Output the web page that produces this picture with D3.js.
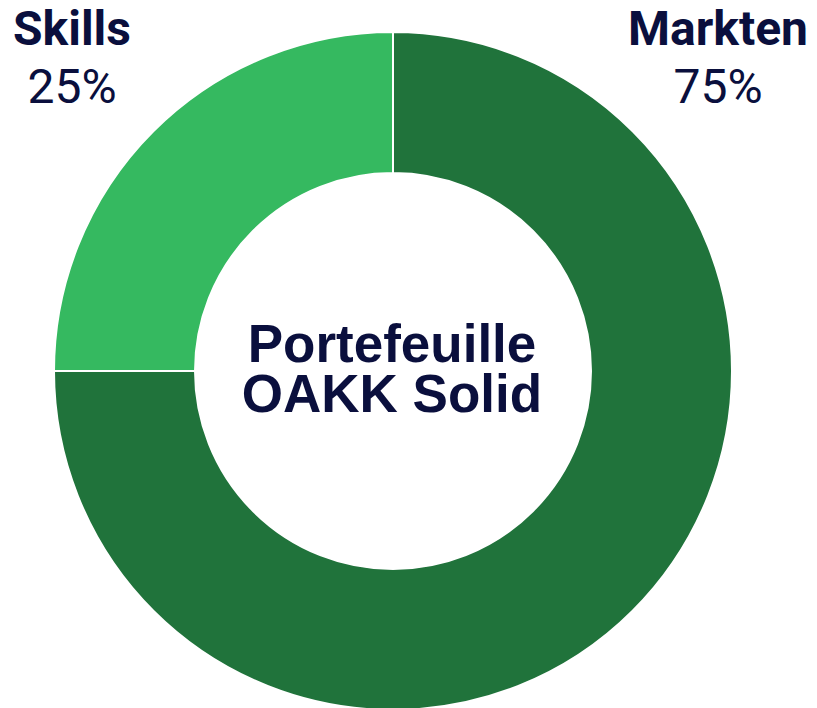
<!DOCTYPE html>
<html>
<head>
<meta charset="utf-8">
<script src="https://cdn.jsdelivr.net/npm/d3@7"></script>
<style>
  body { margin: 0; background: #fff; }
</style>
</head>
<body>
<div class="canvas"></div>
<script>
const categories = ['Markten', 'Skills'];
const shares = [75, 25];
const pctLabels = ['75%', '25%'];
const centerLines = ['Portefeuille', 'OAKK Solid'];

const dims = {width: 817, height: 708, outer: 339, inner: 198};
const cent = {x: 393, y: 371};
const navy = '#0a0f3d';

const svg = d3.select('.canvas')
  .append('svg')
  .attr('width', dims.width)
  .attr('height', dims.height);

const graph = svg.append('g')
  .attr('transform', `translate(${cent.x},${cent.y})`);

const data = categories.map((c, i) => ({name: c, value: shares[i], label: pctLabels[i]}));

const pie = d3.pie()
  .sort(null)
  .value(d => d.value);

const arcPath = d3.arc()
  .outerRadius(dims.outer)
  .innerRadius(dims.inner);

const colours = d3.scaleOrdinal()
  .domain(categories)
  .range(['#20733b', '#35b960']);

graph.selectAll('path')
  .data(pie(data))
  .enter()
  .append('path')
  .attr('d', arcPath)
  .attr('fill', d => colours(d.data.name))
  .attr('stroke', '#fff')
  .attr('stroke-width', 2);

// outside labels (top corners)
const labelPos = {Markten: {x: 718, y: 45}, Skills: {x: 72, y: 45}};

const labels = svg.selectAll('g.lbl')
  .data(data)
  .enter()
  .append('g')
  .attr('class', 'lbl')
  .attr('transform', d => `translate(${labelPos[d.name].x},${labelPos[d.name].y})`);

labels.append('text')
  .attr('text-anchor', 'middle')
  .attr('font-family', 'Roboto, sans-serif')
  .attr('font-weight', 'bold')
  .attr('font-size', 48)
  .attr('fill', navy)
  .text(d => d.name);

labels.append('text')
  .attr('text-anchor', 'middle')
  .attr('y', 58)
  .attr('font-family', 'Roboto, sans-serif')
  .attr('font-size', 48)
  .attr('fill', navy)
  .text(d => d.label);

// centre title, one text element with a tspan per line
graph.append('text')
  .attr('text-anchor', 'middle')
  .attr('font-family', '"Liberation Sans", Arial, sans-serif')
  .attr('font-weight', 'bold')
  .attr('font-size', 53)
  .attr('fill', navy)
  .selectAll('tspan')
  .data(centerLines)
  .enter()
  .append('tspan')
  .attr('x', -1)
  .attr('y', (d, i) => -9 + i * 50)
  .text(d => d);
</script>
</body>
</html>
